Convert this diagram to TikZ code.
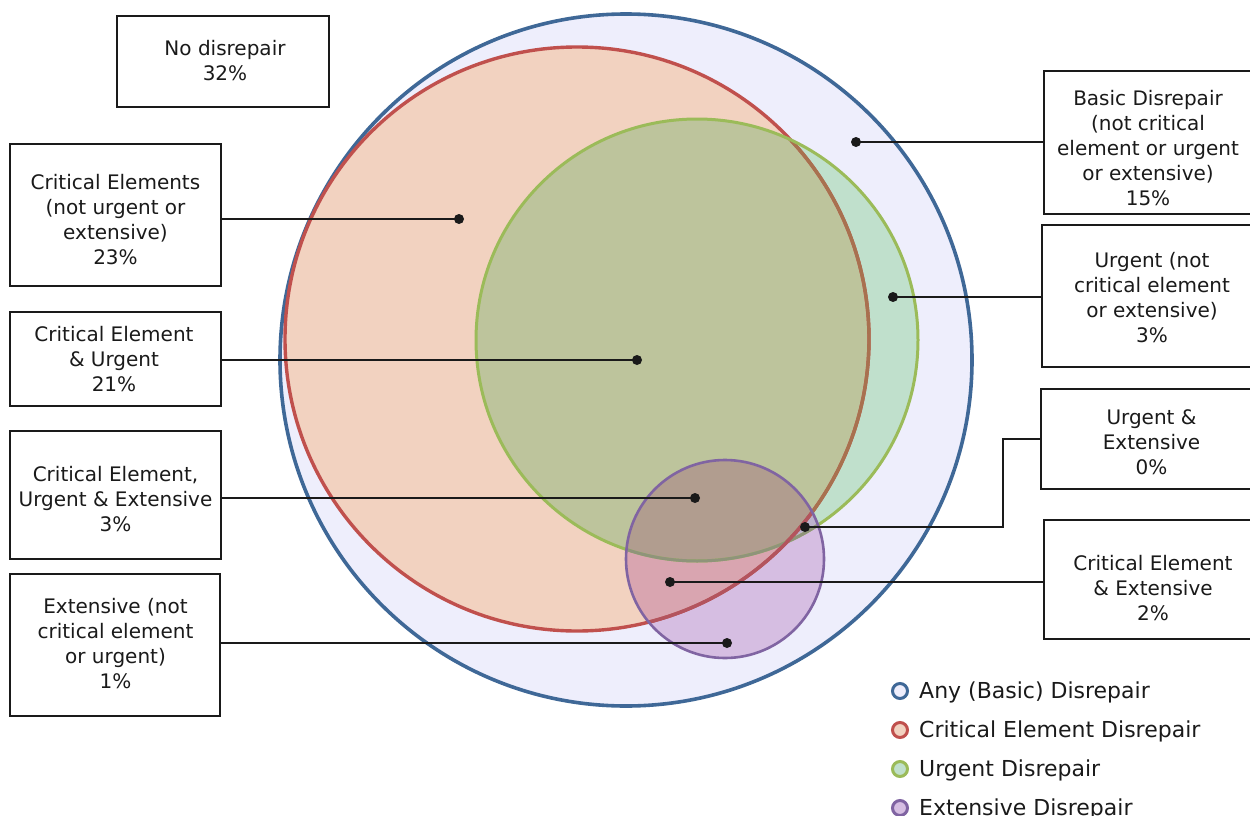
\documentclass[tikz,border=0pt]{standalone}
\usepackage{fontspec}
\setmainfont{DejaVu Sans}
\definecolor{anyline}{HTML}{3F6897}
\definecolor{anyfill}{HTML}{EEEEFC}
\definecolor{critline}{HTML}{C0504D}
\definecolor{critfill}{HTML}{F2D2C0}
\definecolor{urgline}{HTML}{9BBB59}
\definecolor{urgfill}{HTML}{C0E0CC}
\definecolor{critUrg}{HTML}{BDC49C}
\definecolor{critUrgLine}{HTML}{A8714F}
\definecolor{extline}{HTML}{8064A2}
\definecolor{extfill}{HTML}{D6BEE2}
\definecolor{critExt}{HTML}{D9A5B0}
\definecolor{urgExt}{HTML}{BCB2CC}
\definecolor{allThree}{HTML}{B19D8F}
\definecolor{ink}{HTML}{1A1A1A}
\begin{document}
\begin{tikzpicture}[x=1pt,y=-1pt,
  box/.style={draw=ink, line width=2.8pt, fill=white, inner sep=0pt},
  lbl/.style={align=center, text=ink, inner sep=0pt, font=\fontsize{20}{25}\selectfont},
  leader/.style={draw=ink, line width=2pt},
  dot/.style={fill=ink},
  legendmark/.style={line width=3pt, circle, minimum size=15pt, inner sep=0pt},
  legendtext/.style={anchor=west, text=ink, inner sep=0pt, font=\fontsize{22}{26}\selectfont}]
\useasboundingbox (0,0) rectangle (1250,816);

% circle centres
\coordinate (cAny)  at (626,360);
\coordinate (cCrit) at (577,339);
\coordinate (cUrg)  at (697,340);
\coordinate (cExt)  at (725,559);

% fills
\fill[anyfill] (cAny) circle (346pt);
\fill[critfill] (cCrit) circle (292pt);
\fill[urgfill] (cUrg) circle (221pt);
\begin{scope}
  \clip (cCrit) circle (292pt);
  \fill[critUrg] (cUrg) circle (221pt);
\end{scope}
\fill[extfill] (cExt) circle (99pt);
\begin{scope}
  \clip (cExt) circle (99pt);
  \fill[critExt] (cCrit) circle (292pt);
  \fill[urgExt] (cUrg) circle (221pt);
  \clip (cCrit) circle (292pt);
  \fill[allThree] (cUrg) circle (221pt);
\end{scope}

% outlines
\draw[anyline, line width=3.6pt] (cAny) circle (346pt);
\draw[critline, line width=3.4pt] (cCrit) circle (292pt);
\begin{scope}
  \clip (cUrg) circle (221pt);
  \draw[critUrgLine, line width=3.4pt] (cCrit) circle (292pt);
\end{scope}
\draw[urgline, line width=3pt] (cUrg) circle (221pt);
\begin{scope}
  \clip (cExt) circle (99pt);
  \draw[urgline!55!extline, line width=3pt] (cUrg) circle (221pt);
  \draw[critline!80!extline, line width=3.4pt] (cCrit) circle (292pt);
\end{scope}
\draw[extline, line width=2.6pt] (cExt) circle (99pt);

% label boxes
\node[box, minimum width=212pt, minimum height=91pt]  (nodis) at (223,61.5) {};
\node[box, minimum width=211pt, minimum height=142pt] (ce)    at (115.5,215) {};
\node[box, minimum width=211pt, minimum height=94pt]  (ceu)   at (115.5,359) {};
\node[box, minimum width=211pt, minimum height=128pt] (ceue)  at (115.5,495) {};
\node[box, minimum width=210pt, minimum height=142pt] (ext)   at (115,645) {};
\node[box, minimum width=212pt, minimum height=143pt] (basic) at (1150,142.5) {};
\node[box, minimum width=220pt, minimum height=142pt] (urg)   at (1152,296) {};
\node[box, minimum width=222pt, minimum height=100pt] (ue)    at (1152,439) {};
\node[box, minimum width=218pt, minimum height=119pt] (cee)   at (1153,579.5) {};

% box texts
\node[lbl] (nodis-t) at (225,61) {No disrepair\\32\%};
\node[lbl] (ce-t)    at (115.5,220) {Critical Elements\\(not urgent or\\extensive)\\23\%};
\node[lbl] (ceu-t)   at (114,359) {Critical Element\\\& Urgent\\21\%};
\node[lbl] (ceue-t)  at (115.5,499) {Critical Element,\\Urgent \& Extensive\\3\%};
\node[lbl] (ext-t)   at (115.5,644) {Extensive (not\\critical element\\or urgent)\\1\%};
\node[lbl] (basic-t) at (1148,148) {Basic Disrepair\\(not critical\\element or urgent\\or extensive)\\15\%};
\node[lbl] (urg-t)   at (1152,297.5) {Urgent (not\\critical element\\or extensive)\\3\%};
\node[lbl] (ue-t)    at (1151.5,442) {Urgent \&\\Extensive\\0\%};
\node[lbl] (cee-t)   at (1153,588) {Critical Element\\\& Extensive\\2\%};

% leader end points
\coordinate (pCe)    at (459,219);
\coordinate (pCeu)   at (637,360);
\coordinate (pCeue)  at (695,498);
\coordinate (pExt)   at (727,643);
\coordinate (pBasic) at (856,142);
\coordinate (pUrg)   at (893,297);
\coordinate (pUe)    at (805,527);
\coordinate (pCee)   at (670,582);
\coordinate (bend)   at (1003,527);

% leaders
\draw[leader] (pCe) -- (pCe -| ce.east);
\draw[leader] (pCeu) -- (pCeu -| ceu.east);
\draw[leader] (pCeue) -- (pCeue -| ceue.east);
\draw[leader] (pExt) -- (pExt -| ext.east);
\draw[leader] (pBasic) -- (pBasic -| basic.west);
\draw[leader] (pUrg) -- (pUrg -| urg.west);
\draw[leader] (pUe) -- (bend) |- (ue.west);
\draw[leader] (pCee) -- (pCee -| cee.west);

\foreach \p in {pCe,pCeu,pCeue,pExt,pBasic,pUrg,pUe,pCee}
  \fill[dot] (\p) circle (5pt);

% legend
\node[legendmark, draw=anyline, fill=anyfill] (kAny) at (900,691) {};
\node[legendmark, draw=critline, fill=critfill] (kCrit) at (900,730) {};
\node[legendmark, draw=urgline, fill=urgfill] (kUrg) at (900,769) {};
\node[legendmark, draw=extline, fill=extfill] (kExt) at (900,808) {};
\node[legendtext] (tAny)  at (919,692) {Any (Basic) Disrepair};
\node[legendtext] (tCrit) at (919,731) {Critical Element Disrepair};
\node[legendtext] (tUrg)  at (919,770) {Urgent Disrepair};
\node[legendtext] (tExt)  at (919,809) {Extensive Disrepair};
\end{tikzpicture}
\end{document}
